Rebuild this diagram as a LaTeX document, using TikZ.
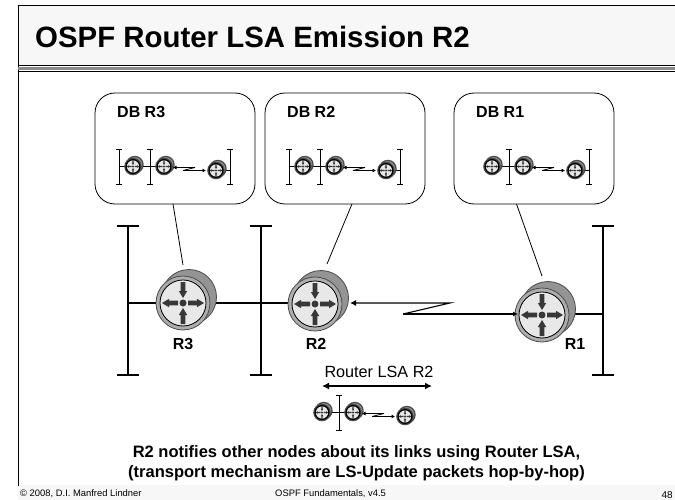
\documentclass[tikz,border=0pt]{standalone}
\usepackage{fontspec}
\setmainfont{Liberation Sans}
\usepackage{tikz}
\usetikzlibrary{arrows.meta,positioning}
\tikzstyle{dbbox} = [rectangle,draw=black,fill=white,rounded corners=20pt,minimum width=160pt,minimum height=111pt,line width=0.8pt]
\tikzstyle{bus} = [color=black,line width=2.6pt]
\tikzstyle{thinbus} = [color=black,line width=0.7pt]
\tikzstyle{arrow} = [color=black,line width=0.8pt]
\tikzstyle{lbl} = [font=\bfseries\fontsize{16}{18}\selectfont,inner sep=0pt]
\definecolor{rback}{gray}{0.58}
\definecolor{rring}{gray}{0.68}
\definecolor{rface}{gray}{0.91}
\definecolor{rarrow}{gray}{0.22}
% #1 name, #2 centre, #3 size factor, #4 rim width
\newcommand{\router}[4]{
	\begin{scope}[shift={#2},scale=#3]
		\fill[rback,draw=black!70,line width=#4] (6,-6) circle (27.5);
		\fill[rring,draw=black!70,line width=#4] (0,0) circle (27);
		\fill[rface,draw=black,line width=#4] (0,0) circle (23);
		\foreach \ang in {0,180}{
			\fill[rarrow,rotate=\ang] (5,-2.4) -- (14,-2.4) -- (14,-4.2) -- (21,0) -- (14,4.2) -- (14,2.4) -- (5,2.4) -- cycle;
		}
		\foreach \ang in {90,270}{
			\fill[rarrow,rotate=\ang] (21,-2.4) -- (12,-2.4) -- (12,-4.2) -- (5,0) -- (12,4.2) -- (12,2.4) -- (21,2.4) -- cycle;
		}
		\fill[rarrow] (0,0) circle (3.5);
	\end{scope}
	\coordinate (#1) at #2;
}
% #1 prefix, #2 origin, #3 left bus, #4 right bus
\newcommand{\minilink}[4]{
	\begin{scope}[shift={#2}]
		\coordinate (#1a) at (-17,0);
		\coordinate (#1b) at (14,0);
		\coordinate (#1c) at (66,4);
		\draw[thinbus] (-3,-17.5) -- (3,-17.5);
		\draw[thinbus] (0,-17.5) -- (0,17.5);
		\draw[thinbus] (-3,17.5) -- (3,17.5);
		\draw[thinbus] (#1a) -- (#1b);
		\ifnum#3=1
		\draw[thinbus] (-34,-17.5) -- (-28,-17.5);
		\draw[thinbus] (-31,-17.5) -- (-31,17.5);
		\draw[thinbus] (-34,17.5) -- (-28,17.5);
		\draw[thinbus] (-31,0) -- (#1a);
		\fi
		\ifnum#4=1
		\draw[thinbus] (77,-17.5) -- (83,-17.5);
		\draw[thinbus] (80,-17.5) -- (80,17.5);
		\draw[thinbus] (77,17.5) -- (83,17.5);
		\draw[thinbus] (#1c) -- (80,4);
		\fi
		\router{#1ra}{(-17,0)}{0.3}{1.3pt}
		\router{#1rb}{(14,0)}{0.3}{1.3pt}
		\router{#1rc}{(66,4)}{0.3}{1.3pt}
		\draw[arrow,-{Latex[length=3.5pt,width=4pt]}] (45,1) -- (23,1);
		\draw[arrow] (45,1) -- (33,4);
		\draw[arrow,-{Latex[length=3.5pt,width=4pt]}] (33,4) -- (56,4);
	\end{scope}
}
\begin{document}
\begin{tikzpicture}[x=1pt,y=-1pt]
	\useasboundingbox (0,0) rectangle (675,500);

	%slide frame
	\fill[black!3] (18,6) rectangle (675,66);
	\fill[black!3] (18,485) rectangle (675,500);
	\draw[black,line width=1pt] (675,6) -- (18,6) -- (18,486);
	\draw[black,line width=1pt] (18,66) -- (675,66);
	\fill[black!45] (18,67) rectangle (675,70);
	\draw[black,line width=0.8pt] (18,71) -- (675,71);
	\node (title) [anchor=west,inner sep=0pt,font=\bfseries\fontsize{29.4}{33}\selectfont] at (35,37) {OSPF Router LSA Emission R2};

	%databases
	\node (db3) [dbbox] at (175,148.5) {};
	\node (db2) [dbbox] at (345,148.5) {};
	\node (db1) [dbbox] at (534,148.5) {};
	\node (db3t) [lbl,anchor=west] at (117,112) {DB R3};
	\node (db2t) [lbl,anchor=west] at (287,112) {DB R2};
	\node (db1t) [lbl,anchor=west] at (476,112) {DB R1};
	\minilink{m3}{(150,166.5)}{1}{1}
	\minilink{m2}{(320,166.5)}{1}{1}
	\minilink{m1}{(509,166.5)}{0}{1}

	%buses
	\coordinate (b1t) at (128,226);
	\coordinate (b1b) at (128,375);
	\coordinate (b2t) at (261,226);
	\coordinate (b2b) at (261,375);
	\coordinate (b3t) at (603,226);
	\coordinate (b3b) at (603,375);
	\foreach \bname in {b1,b2,b3}{
		\draw[bus] (\bname t) -- (\bname b);
		\draw[bus] ([xshift=-11pt]\bname t) -- ([xshift=11pt]\bname t);
		\draw[bus] ([xshift=-11pt]\bname b) -- ([xshift=11pt]\bname b);
	}
	\coordinate (j1) at (128,303);
	\coordinate (j3) at (603,314);
	\coordinate (r3c) at (183,303);
	\coordinate (r2c) at (315,303);
	\coordinate (r1c) at (542,314);
	\draw[bus] (j1) -- (r3c);
	\draw[bus] (r3c) -- (r2c);
	\draw[bus] (r1c) -- (j3);

	%routers
	\router{r3}{(183,303)}{1}{0.8pt}
	\router{r2}{(315,304)}{1}{0.8pt}
	\router{r1}{(542,315)}{1}{0.8pt}
	\node (r3l) [lbl] at (183,344) {R3};
	\node (r2l) [lbl] at (316,344) {R2};
	\node (r1l) [lbl] at (575,344) {R1};

	%serial link
	\coordinate (z1) at (450,303);
	\coordinate (z2) at (403,314);
	\coordinate (r2in) at (350,303);
	\coordinate (r1in) at (518,314);
	\draw[arrow,line width=1.1pt,-{Latex[length=6pt,width=6pt]}] (z2) -- (z1) -- (r2in);
	\draw[arrow,line width=1.1pt,-{Latex[length=5pt,width=5pt]}] (z2) -- (r1in);

	%db pointers
	\coordinate (p3) at (183,265);
	\coordinate (p2) at (327,264);
	\coordinate (p1) at (542,276);
	\draw[arrow] (173,204) -- (p3);
	\draw[arrow] (352,204) -- (p2);
	\draw[arrow] (516.5,204) -- (p1);

	%lsa
	\node (lsa) [inner sep=0pt,font=\fontsize{16.2}{18}\selectfont] at (379,372) {Router LSA R2};
	\coordinate (la) at (322,386);
	\coordinate (lb) at (432,386);
	\draw[arrow,line width=1.6pt,{Latex[length=7pt,width=7pt]}-{Latex[length=7pt,width=7pt]}] (la) -- (lb);
	\minilink{ml}{(339,412.5)}{0}{0}

	%caption
	\node (cap) [align=center,inner sep=0pt,font=\bfseries\fontsize{16.5}{20}\selectfont] at (356.5,463) {R2 notifies other nodes about its links using Router LSA,\\(transport mechanism are LS-Update packets hop-by-hop)};

	%footer
	\node (foot1) [anchor=west,inner sep=0pt,font=\fontsize{9.4}{11}\selectfont] at (20,494) {© 2008, D.I. Manfred Lindner};
	\node (foot2) [anchor=west,inner sep=0pt,font=\fontsize{9.4}{11}\selectfont] at (275,494) {OSPF Fundamentals, v4.5};
	\node (foot3) [anchor=east,inner sep=0pt,font=\fontsize{10}{11}\selectfont] at (673,495) {48};
\end{tikzpicture}
\end{document}
